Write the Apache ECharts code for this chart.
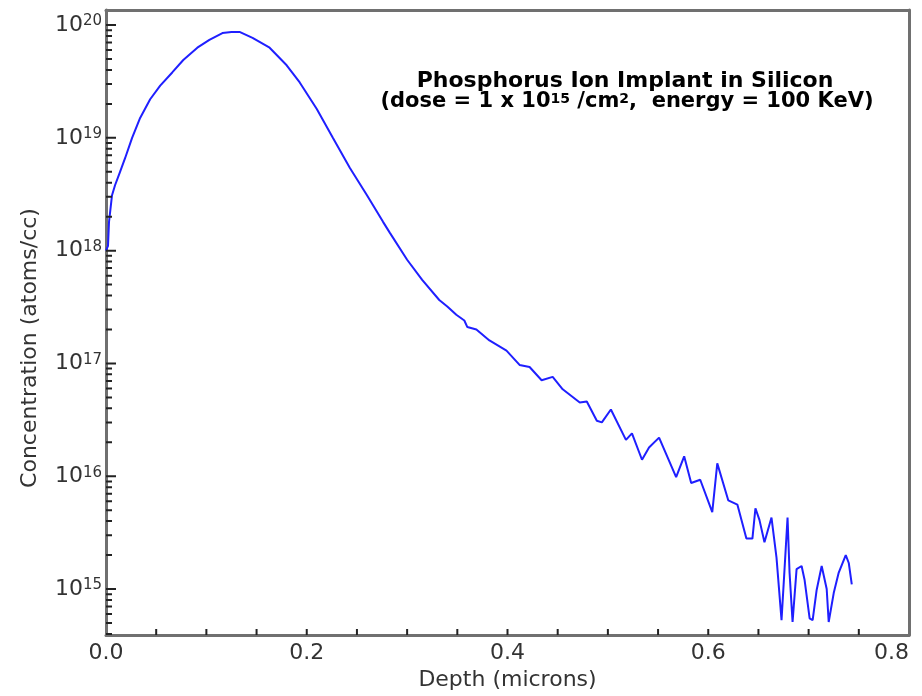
<!DOCTYPE html>
<html>
<head>
<meta charset="utf-8">
<title>Phosphorus Ion Implant in Silicon</title>
<script src="https://cdn.jsdelivr.net/npm/echarts@6.0.0/dist/echarts.min.js"></script>
<style>
html, body { margin: 0; padding: 0; background: #fff; }
#chart { width: 922px; height: 696px; }
</style>
</head>
<body>
<div id="chart"></div>
<script>
// depth in microns
var depth = [
	0.000, 0.002, 0.003, 0.006, 0.009, 0.014, 0.019, 0.026, 0.034, 0.044,
	0.054, 0.066, 0.077, 0.091, 0.103, 0.116, 0.125, 0.133, 0.146, 0.163,
	0.180, 0.193, 0.210, 0.226, 0.243, 0.260, 0.276, 0.283, 0.300, 0.315,
	0.332, 0.340, 0.349, 0.357, 0.360, 0.369, 0.382, 0.399, 0.412, 0.422,
	0.434, 0.445, 0.455, 0.472, 0.479, 0.489, 0.494, 0.503, 0.518, 0.524,
	0.534, 0.541, 0.551, 0.568, 0.576, 0.583, 0.592, 0.604, 0.609, 0.620,
	0.629, 0.638, 0.644, 0.647, 0.651, 0.656, 0.663, 0.668, 0.673, 0.676,
	0.679, 0.681, 0.684, 0.688, 0.693, 0.696, 0.701, 0.704, 0.708, 0.713,
	0.718, 0.720, 0.725, 0.730, 0.737, 0.740, 0.743
]
// concentration in atoms/cc
var conc = [
	1.0e18, 1.1e18, 1.8e18, 3.1e18, 3.8e18, 5.0e18, 6.6e18, 1.0e19, 1.5e19, 2.2e19,
	2.9e19, 3.8e19, 4.9e19, 6.3e19, 7.4e19, 8.5e19, 8.7e19, 8.7e19, 7.7e19, 6.3e19,
	4.4e19, 3.1e19, 1.8e19, 1.0e19, 5.4e18, 3.1e18, 1.8e18, 1.43e18, 8.3e17, 5.5e17,
	3.65e17, 3.2e17, 2.7e17, 2.4e17, 2.1e17, 2.0e17, 1.6e17, 1.3e17, 9.7e16, 9.3e16,
	7.1e16, 7.6e16, 5.9e16, 4.5e16, 4.6e16, 3.1e16, 3.0e16, 3.9e16, 2.1e16, 2.4e16,
	1.4e16, 1.8e16, 2.2e16, 9.8e15, 1.5e16, 8.7e15, 9.3e15, 4.8e15, 1.3e16, 6.1e15,
	5.6e15, 2.8e15, 2.8e15, 5.2e15, 4.1e15, 2.6e15, 4.3e15, 1.9e15, 5.3e14, 1.5e15,
	4.3e15, 1.4e15, 5.1e14, 1.5e15, 1.6e15, 1.2e15, 5.5e14, 5.3e14, 9.8e14, 1.6e15,
	1.0e15, 5.1e14, 9.2e14, 1.4e15, 2.0e15, 1.7e15, 1.1e15
]
var decades = [15, 16, 17, 18, 19, 20]   // labelled powers of ten
var xTickStep = 0.05                       // small ticks along depth
var xMax = 0.8
var yMin = 3.91e14
var yMax = 1.36e20

var font = 'DejaVu Sans'
var axisGray = '#707070'
var tickColor = '#222'

// grid box (px)
var gLeft = 106, gRight = 13, gTop = 10, gBottom = 61
var gWidth = 922 - gLeft - gRight
var gHeight = 696 - gTop - gBottom

var logMin = Math.log10(yMin)
var logMax = Math.log10(yMax)

// 刻度长度(px) 换算成数据单位
var pxX = xMax / gWidth
var pxY = (logMax - logMin) / gHeight

//主刻度 (朝内, 9px)
var majorTickData = []
decades.forEach(function(d) {
	majorTickData.push([0, d], [10 * pxX, d], [0, '-'])
})
//次刻度: y 方向 2..9 倍, x 方向每 0.05
var minorTickData = []
for (var n = 14; n <= 20; n++) {
	for (var k = 2; k <= 9; k++) {
		var v = Math.log10(k) + n
		if (v > logMin && v < logMax) minorTickData.push([0, v], [6 * pxX, v], [0, '-'])
	}
}
for (var j = 1; j * xTickStep < xMax - 1e-9; j++) {
	var xv = +(j * xTickStep).toFixed(2)
	minorTickData.push([xv, logMin], [xv, logMin + 6 * pxY], [xv, '-'])
}

var lineData = []
for (var i = 0; i < depth.length; i++) {
	lineData.push([depth[i], Math.log10(conc[i])])
}

var myChart = echarts.init(document.getElementById('chart'))

var option = {
	animation: false,
	backgroundColor: '#fff',
	grid: {
		left: gLeft,
		right: gRight,
		top: gTop,
		bottom: gBottom,
		show: false,
		outerBoundsMode: 'none'
	},
	graphic: [
		{
			type: 'text',
			x: 625,
			y: 81,
			style: {
				text: 'Phosphorus Ion Implant in Silicon',
				font: 'bold 22px "DejaVu Sans"',
				fill: '#000',
				align: 'center',
				verticalAlign: 'middle',
				textAlign: 'center',
				textVerticalAlign: 'middle'
			}
		},
		{
			type: 'text',
			x: 627,
			y: 102,
			style: {
				text: '{n|(dose = 1 x 10}{s|15}{n| /cm}{s|2}{n|,  energy = 100 KeV)}',
				fill: '#000',
				align: 'center',
				verticalAlign: 'middle',
				textAlign: 'center',
				textVerticalAlign: 'middle',
				rich: {
					n: { fontSize: 21, fontFamily: font, fontWeight: 'bold', fill: '#000', lineHeight: 20 },
					s: { fontSize: 14, fontFamily: font, fontWeight: 'bold', fill: '#000', lineHeight: 14, verticalAlign: 'top' }
				}
			}
		},
		{
			type: 'text',
			x: 30,
			y: 348,
			rotation: Math.PI / 2,
			style: {
				text: 'Concentration (atoms/cc)',
				font: '22px "DejaVu Sans"',
				fill: '#333',
				align: 'center',
				verticalAlign: 'middle',
				textAlign: 'center',
				textVerticalAlign: 'middle'
			}
		}
	],
	xAxis: [
		{
			type: 'value',
			position: 'bottom',
			min: 0,
			max: xMax,
			interval: 0.2,
			name: 'Depth (microns)',
			nameLocation: 'middle',
			nameGap: 33,
			nameTextStyle: { fontSize: 22, fontFamily: font, color: '#333' },
			axisLine: { show: true, onZero: false, lineStyle: { color: axisGray, width: 3 } },
			axisTick: { show: false },
			axisLabel: {
				fontSize: 22,
				fontFamily: font,
				color: '#333',
				margin: 7,
				showMinLabel: true,
				showMaxLabel: true,
				alignMaxLabel: 'right',
				formatter: function(v) { return v.toFixed(1) }
			},
			splitLine: { show: false }
		},
		{
			// 上边框
			type: 'value',
			position: 'top',
			min: 0,
			max: xMax,
			axisLine: { show: true, onZero: false, lineStyle: { color: axisGray, width: 3 } },
			axisTick: { show: false },
			axisLabel: { show: false },
			splitLine: { show: false }
		}
	],
	yAxis: [
		{
			type: 'value',
			position: 'left',
			min: logMin,
			max: logMax,
			axisLine: { show: true, onZero: false, lineStyle: { color: axisGray, width: 3 } },
			axisTick: { show: false },
			axisLabel: {
				customValues: decades,
				margin: 4,
				formatter: function(v) { return '{b|10}{s|' + Math.round(v) + '}' },
				rich: {
					b: { fontSize: 22, fontFamily: font, color: '#333', lineHeight: 22 },
					s: { fontSize: 15, fontFamily: font, color: '#333', lineHeight: 15, verticalAlign: 'top' }
				}
			},
			splitLine: { show: false }
		},
		{
			// 右边框
			type: 'value',
			position: 'right',
			min: logMin,
			max: logMax,
			axisLine: { show: true, onZero: false, lineStyle: { color: axisGray, width: 3 } },
			axisTick: { show: false },
			axisLabel: { show: false },
			splitLine: { show: false }
		}
	],
	series: [
		{
			type: 'line',
			xAxisIndex: 0,
			yAxisIndex: 0,
			data: lineData,
			showSymbol: false,
			smooth: false,
			lineStyle: { color: '#1f1fff', width: 2 },
			itemStyle: { color: '#1f1fff' }
		},
		{
			type: 'line',
			xAxisIndex: 0,
			yAxisIndex: 0,
			silent: true,
			data: majorTickData,
			showSymbol: false,
			connectNulls: false,
			lineStyle: { color: tickColor, width: 2 },
			itemStyle: { color: tickColor }
		},
		{
			type: 'line',
			xAxisIndex: 0,
			yAxisIndex: 0,
			silent: true,
			data: minorTickData,
			showSymbol: false,
			connectNulls: false,
			lineStyle: { color: tickColor, width: 2 },
			itemStyle: { color: tickColor }
		}
	]
}

myChart.setOption(option)
</script>
</body>
</html>
